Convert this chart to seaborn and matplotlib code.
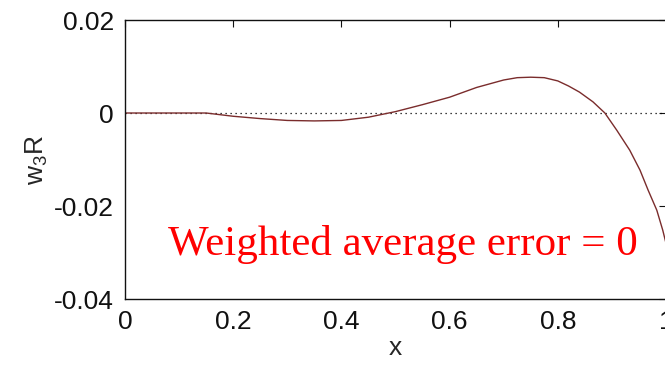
import matplotlib
matplotlib.use("Agg")
import matplotlib.pyplot as plt
import pandas as pd
import seaborn as sns

# values
x_vals = [0.0, 0.1, 0.15, 0.2, 0.25, 0.3, 0.35, 0.4, 0.45, 0.5, 0.55, 0.6,
          0.65, 0.7, 0.725, 0.75, 0.775, 0.8, 0.82, 0.84, 0.865, 0.887,
          0.909, 0.933, 0.952, 0.967, 0.983, 0.994, 1.0]
w3r_vals = [0.0, 0.0, 0.0, -0.0007, -0.0012, -0.0016, -0.0017, -0.0016,
            -0.0009, 0.0003, 0.0018, 0.0034, 0.0055, 0.0071, 0.0076, 0.0077,
            0.0076, 0.0069, 0.0058, 0.0045, 0.0024, 0.0, -0.0037, -0.0080,
            -0.0123, -0.0166, -0.0209, -0.0252, -0.0280]
x_ticks = [0, 0.2, 0.4, 0.6, 0.8, 1]
y_ticks = [-0.04, -0.02, 0, 0.02]
x_tick_labels = ["0", "0.2", "0.4", "0.6", "0.8", "1"]
y_tick_labels = ["-0.04", "-0.02", "0", "0.02"]
note = "Weighted average error = 0"

df = pd.DataFrame({"x": x_vals, "w3R": w3r_vals})

sns.set_theme(style="white")
plt.rcParams["font.family"] = ["Liberation Sans", "DejaVu Sans"]
plt.rcParams["mathtext.fontset"] = "custom"
plt.rcParams["mathtext.rm"] = "Liberation Sans"
plt.rcParams["mathtext.it"] = "Liberation Sans"

fig = plt.figure(figsize=(6.65, 3.74), dpi=100)
ax = fig.add_axes([0.188, 0.2005, 0.8135, 0.746])

ax.axhline(0, color="black", linestyle=(0, (1, 3)), linewidth=0.9)
sns.lineplot(data=df, x="x", y="w3R", ax=ax, color="#7a2c2c", linewidth=1.0)

ax.set_xlim(0, 1)
ax.set_ylim(-0.04, 0.02)
ax.set_xticks(x_ticks)
ax.set_xticklabels(x_tick_labels)
ax.set_yticks(y_ticks)
ax.set_yticklabels(y_tick_labels)
ax.tick_params(direction="in", length=5, width=0.8, colors="#111111",
               labelsize=19, top=True, right=True)
ax.tick_params(axis="x", pad=8)
ax.tick_params(axis="y", pad=8)
for side in ax.spines.values():
    side.set_color("#111111")
    side.set_linewidth(1.0)

ax.set_xlabel("x", fontsize=19, labelpad=1)
ax.set_ylabel(r"$\mathregular{w_3R}$", fontsize=19, labelpad=3)

ax.text(0.079, -0.0305, note, color="red", fontsize=31,
        family=["Liberation Serif", "DejaVu Serif"])

fig.savefig("out.png", dpi=100)
